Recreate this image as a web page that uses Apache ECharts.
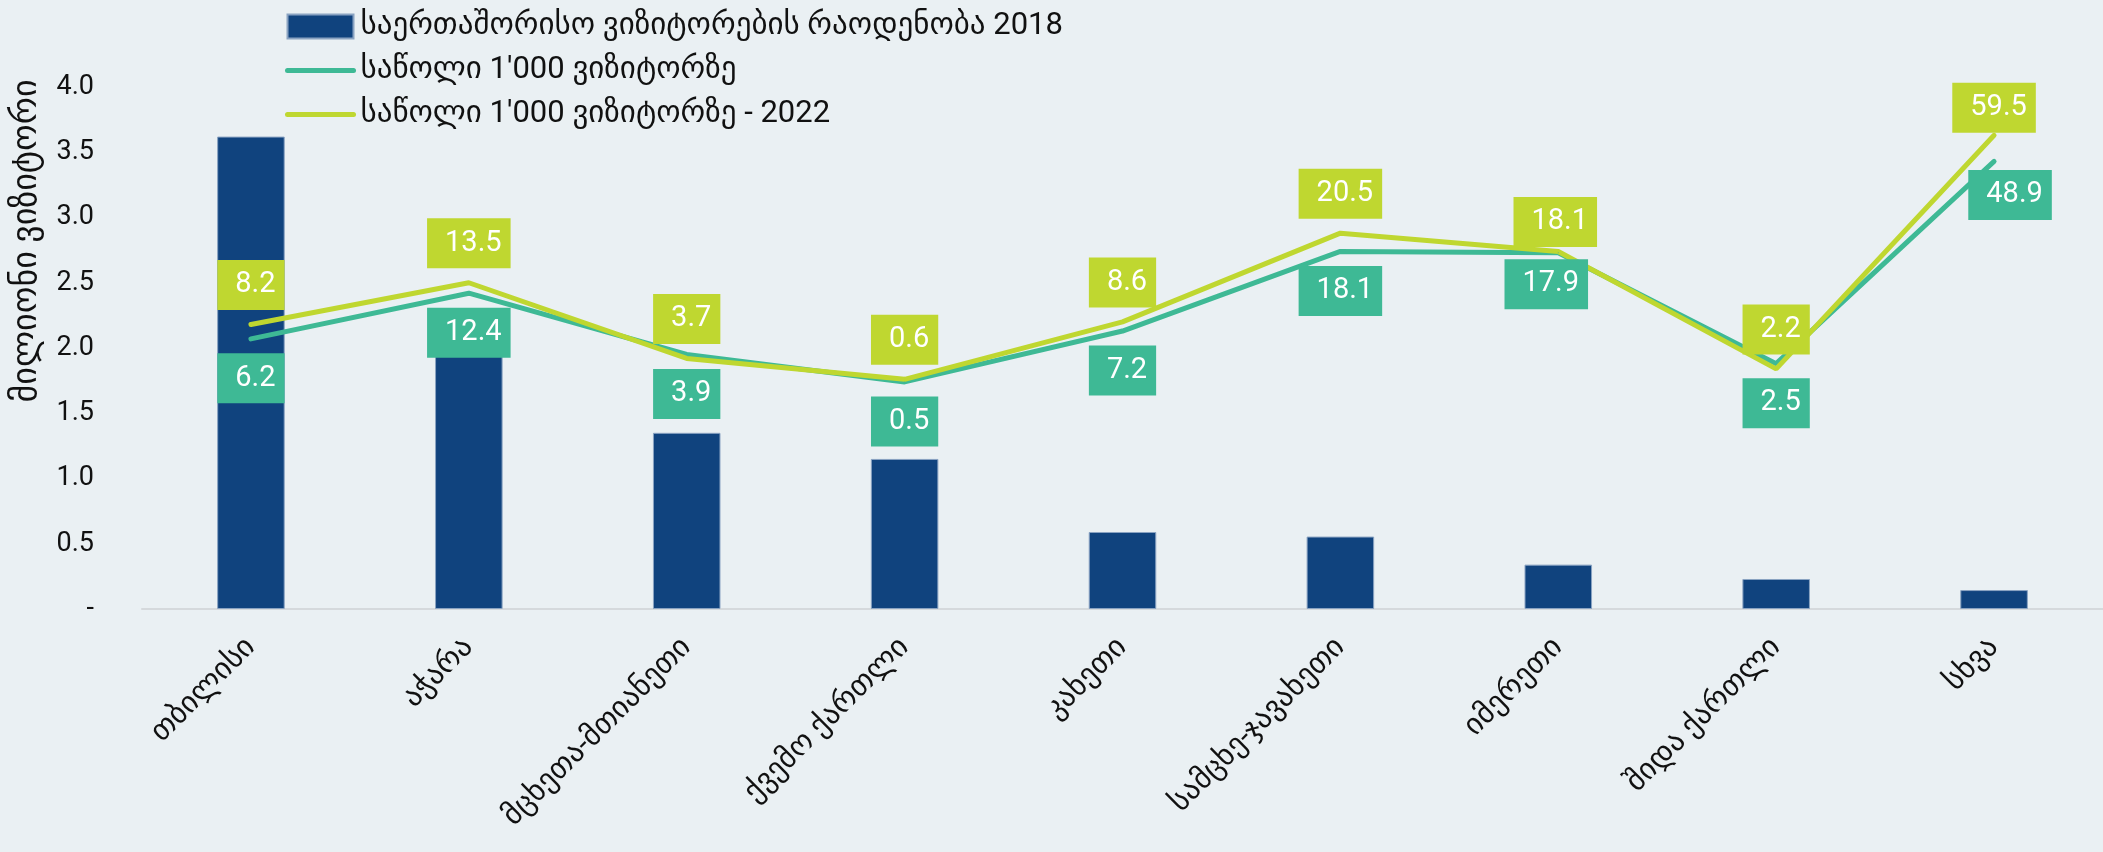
<!DOCTYPE html>
<html>
<head>
<meta charset="utf-8">
<script src="https://cdn.jsdelivr.net/npm/echarts@6/dist/echarts.min.js"></script>
<style>
  html, body { margin: 0; padding: 0; background: #eaf0f3; }
  #main { width: 2103px; height: 852px; }
</style>
</head>
<body>
<div id="main"></div>
<script>
var regions = ['თბილისი', 'აჭარა', 'მცხეთა-მთიანეთი', 'ქვემო ქართლი', 'კახეთი', 'სამცხე-ჯავახეთი', 'იმერეთი', 'შიდა ქართლი', 'სხვა'];

// million visitors, 2018
var visitors2018 = [3.62, 1.95, 1.35, 1.15, 0.59, 0.555, 0.34, 0.23, 0.145];

// line heights as drawn on the chart (left axis units)
var bedsLine = [2.07, 2.42, 1.95, 1.74, 2.13, 2.74, 2.73, 1.88, 3.43];
var beds2022Line = [2.18, 2.50, 1.92, 1.76, 2.20, 2.88, 2.74, 1.84, 3.63];

// labels shown in the boxes (beds per 1'000 visitors)
var bedsLabels = ['6.2', '12.4', '3.9', '0.5', '7.2', '18.1', '17.9', '2.5', '48.9'];
var beds2022Labels = ['8.2', '13.5', '3.7', '0.6', '8.6', '20.5', '18.1', '2.2', '59.5'];

var yTickLabels = ['-', '0.5', '1.0', '1.5', '2.0', '2.5', '3.0', '3.5', '4.0'];

var seriesNames = ['საერთაშორისო ვიზიტორების რაოდენობა 2018', "საწოლი 1'000 ვიზიტორზე", "საწოლი 1'000 ვიზიტორზე - 2022"];
var yAxisName = 'მილიონი ვიზიტორი';

var FONT = "Roboto, 'DejaVu Sans', sans-serif";

var chart = echarts.init(document.getElementById('main'));

function boxLabel(color, labels, pos) {
  return {
    show: true,
    position: pos,
    distance: 14,
    formatter: function (p) { return labels[p.dataIndex]; },
    backgroundColor: color,
    color: '#ffffff',
    fontFamily: FONT,
    fontSize: 29,
    lineHeight: 34,
    padding: [8, 9, 8, 18]
  };
}

// a few boxes sit a little off the default spot in the original
function withShifts(values, shifts) {
  return values.map(function (v, i) {
    return shifts[i] ? { value: v, label: { offset: shifts[i] } } : v;
  });
}

var option = {
  backgroundColor: '#eaf0f3',
  animation: false,
  color: ['#10437e', '#3eb995', '#bfd730'],
  textStyle: { fontFamily: FONT },
  grid: {
    left: 142,
    right: 0,
    top: 87,
    bottom: 243
  },
  legend: {
    orient: 'vertical',
    left: 280,
    top: 6,
    itemGap: 13,
    itemWidth: 66,
    itemHeight: 24,
    textStyle: { fontSize: 31, color: '#111', fontFamily: FONT, padding: [0, 0, 0, 2] },
    lineStyle: { width: 5, cap: 'round' },
    data: [
      { name: seriesNames[0], icon: 'rect' },
      { name: seriesNames[1], itemStyle: { opacity: 0 } },
      { name: seriesNames[2], itemStyle: { opacity: 0 } }
    ]
  },
  graphic: [{
    type: 'text',
    x: 27,
    y: 241,
    rotation: Math.PI / 2,
    style: {
      text: yAxisName,
      fontSize: 34,
      fontFamily: FONT,
      fill: '#111',
      align: 'center',
      verticalAlign: 'middle'
    }
  }],
  xAxis: {
    type: 'category',
    data: regions,
    axisLine: { lineStyle: { color: '#d5d9dc', width: 2 } },
    axisTick: { show: false },
    axisLabel: {
      rotate: 45,
      margin: 34,
      fontSize: 30,
      color: '#111',
      fontFamily: FONT
    }
  },
  yAxis: {
    type: 'value',
    min: 0,
    max: 4,
    interval: 0.5,
    splitLine: { show: false },
    axisLine: { show: false },
    axisTick: { show: false },
    axisLabel: {
      margin: 48,
      fontSize: 27,
      color: '#111',
      fontFamily: FONT,
      formatter: function (v) { return yTickLabels[Math.round(v / 0.5)]; }
    }
  },
  series: [{
    name: seriesNames[0],
    type: 'bar',
    data: visitors2018,
    barWidth: '31%',
    itemStyle: { color: '#10437e', borderColor: '#8aa3c2', borderWidth: 1 }
  }, {
    name: seriesNames[1],
    type: 'line',
    data: withShifts(bedsLine, { 6: [-12, -8], 8: [16, -6] }),
    symbol: 'circle',
    symbolSize: 1,
    itemStyle: { color: '#3eb995' },
    lineStyle: { width: 5, color: '#3eb995', cap: 'round' },
    label: boxLabel('#3eb995', bedsLabels, 'bottom')
  }, {
    name: seriesNames[2],
    type: 'line',
    data: withShifts(beds2022Line, { 6: [-3, 10], 8: [0, 12] }),
    symbol: 'circle',
    symbolSize: 1,
    itemStyle: { color: '#bfd730' },
    lineStyle: { width: 5, color: '#bfd730', cap: 'round' },
    label: boxLabel('#bfd730', beds2022Labels, 'top')
  }]
};

chart.setOption(option);
</script>
</body>
</html>
